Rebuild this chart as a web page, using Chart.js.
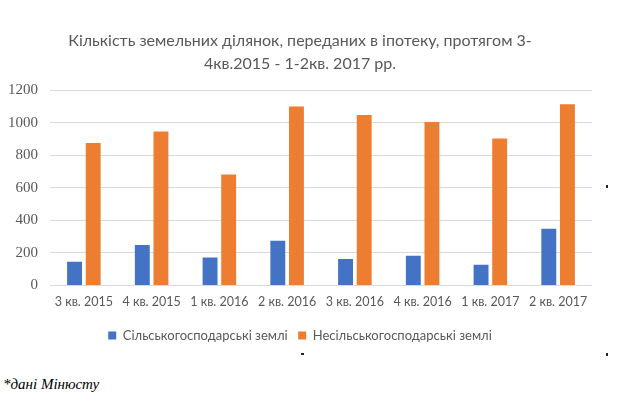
<!DOCTYPE html>
<html>
<head>
<meta charset="utf-8">
<script src="https://cdn.jsdelivr.net/npm/chart.js@4.4.1/dist/chart.umd.min.js"></script>
<style>
  html, body { margin: 0; padding: 0; background: #fff; }
  #wrap { position: relative; width: 635px; height: 403px; }
  #note { position: absolute; left: 3px; top: 376px; font-family: "Liberation Serif", serif; font-style: italic; font-size: 15px; color: #000; }
  .spk { position: absolute; background: #222; width: 2px; height: 3px; }
</style>
</head>
<body>
<div id="wrap">
  <canvas id="c" width="635" height="370"></canvas>
  <div id="note">*дані Мінюсту</div>
  <div class="spk" style="left:606px;top:185px"></div>
  <div class="spk" style="left:301px;top:353px;width:3px;height:2px"></div>
  <div class="spk" style="left:606px;top:353px"></div>
</div>
<script>
const categories = ["3 кв. 2015", "4 кв. 2015", "1 кв. 2016", "2 кв. 2016", "3 кв. 2016", "4 кв. 2016", "1 кв. 2017", "2 кв. 2017"];
const agricultural = [146, 249, 172, 275, 163, 183, 128, 349];
const nonAgricultural = [875, 945, 682, 1099, 1047, 1004, 902, 1113];
const seriesNames = ["Сільськогосподарські землі", "Несільськогосподарські землі"];
const titleLines = ["Кількість земельних ділянок, переданих в іпотеку, протягом 3-", "4кв.2015 - 1-2кв. 2017 рр."];
const yTicks = [0, 200, 400, 600, 800, 1000, 1200];

new Chart(document.getElementById('c'), {
  type: 'bar',
  data: {
    labels: categories,
    datasets: [
      { label: seriesNames[0], data: agricultural, backgroundColor: '#4472C4', categoryPercentage: 0.55, barPercentage: 0.8 },
      { label: seriesNames[1], data: nonAgricultural, backgroundColor: '#ED7D31', categoryPercentage: 0.55, barPercentage: 0.8 }
    ]
  },
  options: {
    responsive: false,
    animation: false,
    layout: { padding: { left: 8, right: 43, top: 29, bottom: 18 } },
    plugins: {
      title: {
        display: true,
        text: titleLines,
        color: '#595959',
        font: { family: 'Lato', size: 16, weight: 'normal', lineHeight: 1.44 },
        padding: { top: 0, bottom: 15 }
      },
      legend: {
        position: 'bottom',
        labels: {
          color: '#595959',
          font: { family: 'Lato', size: 13 },
          boxWidth: 8, boxHeight: 8,
          padding: 10.5
        }
      },
      tooltip: { enabled: false }
    },
    scales: {
      x: {
        grid: { display: false, drawTicks: false },
        border: { display: false },
        ticks: { color: '#595959', font: { family: 'Lato', size: 12.5 }, padding: 9, maxRotation: 0, autoSkip: false }
      },
      y: {
        min: yTicks[0], max: yTicks[yTicks.length - 1],
        afterBuildTicks(scale) { scale.ticks = yTicks.map(v => ({ value: v })); },
        afterFit(scale) { scale.width = 42; },
        ticks: { color: '#595959', font: { family: 'Liberation Serif', size: 15 }, padding: 12, callback: v => String(v) },
        grid: { color: '#d9d9d9', drawTicks: false },
        border: { display: false }
      }
    }
  }
});
</script>
</body>
</html>
